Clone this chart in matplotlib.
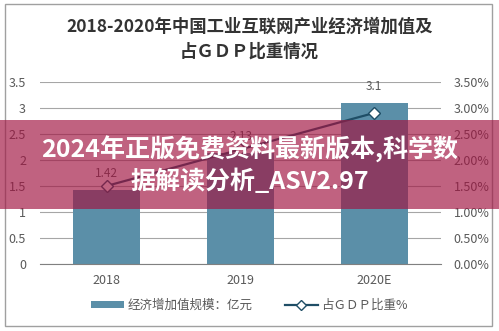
import matplotlib
matplotlib.use('Agg')
import matplotlib.pyplot as plt
from matplotlib.patches import Rectangle, Patch
from matplotlib.lines import Line2D
from matplotlib.ticker import FuncFormatter

plt.rcParams['font.family'] = ['Noto Sans CJK SC', 'DejaVu Sans']

# data
years = ['2018', '2019', '2020E']
added_value = [1.42, 2.13, 3.1]      # 经济增加值规模
gdp_share = [1.5, 2.2, 2.9]          # 占GDP比重 (%)
bar_labels = ['1.42', '2.13', '3.1']

title_text = '2018-2020年中国工业互联网产业经济增加值及\n占ＧＤＰ比重情况'
banner_text = '2024年正版免费资料最新版本,科学数\n据解读分析_ASV2.97'

bar_color = '#5b8fa8'
line_color = '#1f4e66'
grid_color = '#a6a6a6'
txt_color = '#595959'

W, H = 499, 331
fig = plt.figure(figsize=(W / 100, H / 100), dpi=100)
fig.patch.set_facecolor('white')

# outer frame
fig.patches.append(Rectangle((5 / W, 1 - 326 / H), 487 / W, 322 / H,
                             transform=fig.transFigure, fill=False,
                             edgecolor='#a0a0a0', linewidth=1.0))

ax = fig.add_axes([40 / W, 1 - 264 / H, 401 / W, (264 - 81.7) / H])
x = range(len(years))
ax.bar(x, added_value, width=0.5, color=bar_color, zorder=2)
for i in x:
    ax.annotate(bar_labels[i], (i, added_value[i]), xytext=(0, 7),
                textcoords='offset points', ha='center', va='bottom',
                fontsize=8.5, color=txt_color)

ax.set_xlim(-0.5, 2.5)
ax.set_ylim(0, 3.5)
ax.set_yticks([0, 0.5, 1, 1.5, 2, 2.5, 3, 3.5])
ax.set_yticklabels(['0', '0.5', '1', '1.5', '2', '2.5', '3', '3.5'])
ax.set_xticks(list(x))
ax.set_xticklabels(years)
ax.yaxis.grid(True, color=grid_color, linewidth=0.8, zorder=0)
ax.set_axisbelow(True)
for s in ['left', 'right', 'top']:
    ax.spines[s].set_visible(False)
ax.spines['bottom'].set_color('#808080')
ax.tick_params(length=0, labelsize=9, colors=txt_color)
ax.tick_params(axis='y', pad=10)
ax.tick_params(axis='x', pad=7)

ax2 = ax.twinx()
ax2.plot(list(x), gdp_share, color=line_color, linewidth=1.6, marker='D',
         markersize=6, markerfacecolor='white', markeredgecolor=line_color,
         markeredgewidth=1.0, zorder=3)
ax2.set_ylim(0, 3.5)
ax2.set_yticks([0, 0.5, 1, 1.5, 2, 2.5, 3, 3.5])
ax2.yaxis.set_major_formatter(FuncFormatter(lambda v, p: '%.2f%%' % v))
for s in ['left', 'right', 'top', 'bottom']:
    ax2.spines[s].set_visible(False)
ax2.tick_params(length=0, labelsize=9, colors=txt_color, pad=9)

fig.text(0.5, 1 - 39 / H, title_text, ha='center', va='center',
         fontsize=12.5, fontweight='bold', color='#333333', linespacing=1.5)

handles = [Patch(facecolor=bar_color, edgecolor='none'),
           Line2D([0], [0], color=line_color, linewidth=1.6, marker='D',
                  markersize=5, markerfacecolor='white',
                  markeredgecolor=line_color)]
fig.legend(handles, ['经济增加值规模：亿元', '占ＧＤＰ比重%'],
           loc='center', bbox_to_anchor=(0.5, 1 - 305 / H), ncol=2,
           frameon=False, fontsize=9, labelcolor=txt_color,
           handlelength=2.6, handleheight=0.5, columnspacing=2.6,
           handletextpad=0.3)

# watermark band
fig.patches.append(Rectangle((0, 1 - 209 / H), 1, 89 / H,
                             transform=fig.transFigure, facecolor='#a11542',
                             alpha=0.67, edgecolor='none', zorder=10))
fig.text(0.5, 1 - 165 / H, banner_text, ha='center', va='center',
         fontsize=18, fontweight='bold', color='white', linespacing=1.25,
         zorder=11)

fig.savefig('out.png', dpi=100)
